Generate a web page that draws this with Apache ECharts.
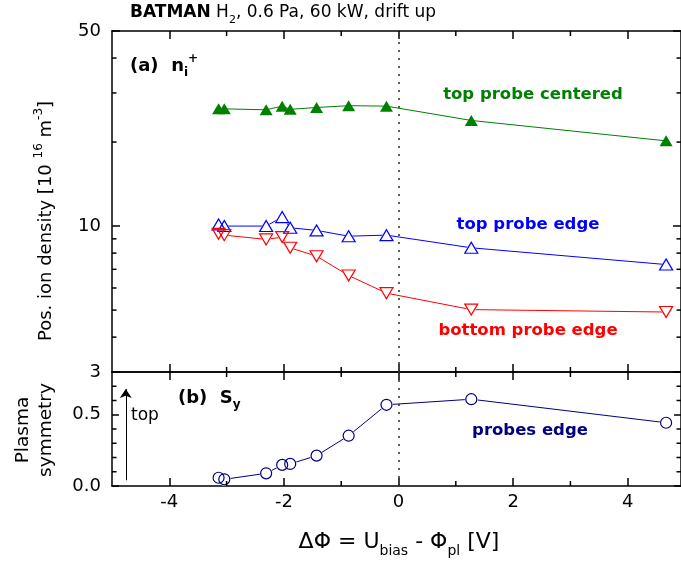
<!DOCTYPE html>
<html><head><meta charset="utf-8">
<script src="https://cdn.jsdelivr.net/npm/echarts@6/dist/echarts.min.js"></script>
<style>html,body{margin:0;padding:0;background:#fff}#c{width:681px;height:570px}</style>
</head><body><div id="c"></div>
<script>
// ---- data ----
const xBias = [-3.14, -3.04, -2.31, -2.03, -1.89, -1.43, -0.87, -0.21, 1.27, 4.67];
const topCentered = [26.3, 26.3, 26.1, 26.9, 26.2, 26.6, 27.0, 26.9, 23.9, 20.2];
const topEdge = [10.14, 10.0, 10.0, 10.77, 9.86, 9.65, 9.2, 9.28, 8.36, 7.28];
const bottomEdge = [9.38, 9.28, 8.96, 9.13, 8.36, 7.80, 6.65, 5.75, 5.02, 4.92];
const symmetry = [0.058, 0.047, 0.089, 0.148, 0.155, 0.213, 0.353, 0.570, 0.609, 0.444];
const xMajorTicks = [-4, -2, 0, 2, 4];
const xMinorTicks = [-3, -1, 1, 3];
const densityMinorTicks = [4, 5, 6, 7, 8, 9, 20, 30, 40];
const symMajorTicks = [0, 0.5];
const symMinorTicks = [0.1, 0.2, 0.3, 0.4, 0.6, 0.7];

const FONT = '"DejaVu Sans", "Liberation Sans", sans-serif';
const X_MIN = -5, X_MAX = 4.93;
const YA = [3, 50], YB = [0, 0.8];
const GREEN = '#008000', BLUE = '#0000ff', RED = '#ff0000', NAVY = '#000080';
const AX = {color: '#000', width: 1.5};
const pts = ys => xBias.map((x, i) => [x, ys[i]]);

function xAx(gridIndex, position, showLabel) {
  return {
    type: 'value', gridIndex, position, min: X_MIN, max: X_MAX,
    axisLine: {show: true, onZero: false, lineStyle: AX},
    axisTick: {show: true, inside: true, length: 8, customValues: xMajorTicks, lineStyle: AX},
    axisLabel: {show: showLabel, customValues: xMajorTicks, margin: 7, color: '#000', fontFamily: FONT, fontSize: 18},
    splitLine: {show: false}
  };
}
function yLog(position, showLabel) {
  return {
    type: 'log', logBase: 10, gridIndex: 0, position, min: YA[0], max: YA[1],
    axisLine: {show: true, onZero: false, lineStyle: AX},
    axisTick: {show: true, inside: true, length: 8, lineStyle: AX},
    axisLabel: {show: showLabel, showMinLabel: true, showMaxLabel: true, margin: 11, color: '#000',
      fontFamily: FONT, fontSize: 18, formatter: v => String(Math.round(v))},
    splitLine: {show: false}, minorTick: {show: false}
  };
}
function yLin(position, showLabel) {
  return {
    type: 'value', gridIndex: 1, position, min: YB[0], max: YB[1],
    axisLine: {show: true, onZero: false, lineStyle: AX},
    axisTick: {show: true, inside: true, length: 7, customValues: symMajorTicks, lineStyle: AX},
    axisLabel: {show: showLabel, customValues: symMajorTicks, margin: 11, color: '#000',
      fontFamily: FONT, fontSize: 18, formatter: v => v.toFixed(1)},
    splitLine: {show: false}
  };
}
function minorTicks(xi, yi, kind, values, len, yExt) {
  return {
    type: 'custom', xAxisIndex: xi, yAxisIndex: yi, silent: true, clip: false, z: 5,
    data: kind === 'y' ? values.map(v => [X_MIN, v]) : values.map(v => [v, yExt[0]]),
    renderItem: (params, api) => {
      const st = {stroke: '#000', lineWidth: 1.5};
      const ch = [];
      if (kind === 'y') {
        const v = api.value(1);
        const a = api.coord([X_MIN, v]), b = api.coord([X_MAX, v]);
        ch.push({type: 'line', shape: {x1: a[0], y1: a[1], x2: a[0] + len, y2: a[1]}, style: st});
        ch.push({type: 'line', shape: {x1: b[0], y1: b[1], x2: b[0] - len, y2: b[1]}, style: st});
      } else {
        const v = api.value(0);
        const a = api.coord([v, yExt[1]]), b = api.coord([v, yExt[0]]);
        ch.push({type: 'line', shape: {x1: a[0], y1: a[1], x2: a[0], y2: a[1] + len}, style: st});
        ch.push({type: 'line', shape: {x1: b[0], y1: b[1], x2: b[0], y2: b[1] - len}, style: st});
      }
      return {type: 'group', children: ch};
    }
  };
}
const dotted = {
  silent: true, symbol: ['none', 'none'], label: {show: false},
  lineStyle: {type: [2, 6], color: '#333', width: 1.6}, data: [{xAxis: 0}]
};
function maskLine(xi, yi, data, color, rot) {
  return {
    type: 'line', xAxisIndex: xi, yAxisIndex: yi, data, symbol: rot === 'circle' ? 'circle' : 'triangle',
    symbolRotate: rot === 180 ? 180 : 0, symbolSize: rot === 'circle' ? 12 : [14, 12],
    itemStyle: {color: '#fff', borderColor: '#fff', borderWidth: 1},
    lineStyle: {color, width: 1}, silent: true, z: 2
  };
}
function outline(xi, yi, data, color, rot) {
  return {
    type: 'scatter', xAxisIndex: xi, yAxisIndex: yi, data, symbol: rot === 'circle' ? 'circle' : 'triangle',
    symbolRotate: rot === 180 ? 180 : 0, symbolSize: rot === 'circle' ? 11 : [13, 11],
    itemStyle: {color: 'rgba(255,255,255,0)', borderColor: color, borderWidth: 1.2, opacity: 1},
    silent: true, z: 4
  };
}
function label(x, y, text, rich, opts) {
  return Object.assign({type: 'text', x, y, silent: true, style: Object.assign({
    text, rich, fontFamily: FONT, align: 'left', verticalAlign: 'middle', textAlign: 'left', textVerticalAlign: 'middle'
  }, (opts && opts.style) || {})}, (opts && opts.el) || {});
}
const R = (size, extra) => Object.assign({fontFamily: FONT, fontSize: size, lineHeight: Math.round(size * 1.45), verticalAlign: 'middle'}, extra || {});
const SUB = (size, extra) => Object.assign({fontFamily: FONT, fontSize: size, lineHeight: size, verticalAlign: 'bottom'}, extra || {});
const SUP = (size, extra) => Object.assign({fontFamily: FONT, fontSize: size, lineHeight: size, verticalAlign: 'top'}, extra || {});

const option = {
  animation: false,
  backgroundColor: '#fff',
  grid: [
    {left: 112, width: 570, top: 31, height: 341},
    {left: 112, width: 570, top: 372, height: 114}
  ],
  xAxis: [xAx(0, 'bottom', false), xAx(0, 'top', false), xAx(1, 'top', false), xAx(1, 'bottom', true)],
  yAxis: [yLog('left', true), yLog('right', false), yLin('left', true), yLin('right', false)],
  series: [
    {type: 'line', xAxisIndex: 0, yAxisIndex: 0, data: pts(topCentered), symbol: 'triangle', symbolSize: [13, 11],
     itemStyle: {color: GREEN}, lineStyle: {color: GREEN, width: 1}, silent: true, markLine: dotted},
    maskLine(0, 0, pts(topEdge), BLUE, 0),
    maskLine(0, 0, pts(bottomEdge), RED, 180),
    outline(0, 0, pts(topEdge), BLUE, 0),
    outline(0, 0, pts(bottomEdge), RED, 180),
    Object.assign(maskLine(3, 2, pts(symmetry), NAVY, 'circle'), {markLine: dotted}),
    Object.assign(outline(3, 2, pts(symmetry), NAVY, 'circle'), {
      markLine: {silent: true, symbol: ['none', 'arrow'], symbolSize: 9, label: {show: false},
        lineStyle: {type: 'solid', color: '#000', width: 1},
        data: [[{coord: [-4.76, 0.04]}, {coord: [-4.76, 0.68]}]]}
    }),
    minorTicks(0, 0, 'y', densityMinorTicks, 4.5),
    minorTicks(0, 0, 'x', xMinorTicks, 5, YA),
    minorTicks(3, 2, 'y', symMinorTicks, 4.5),
    minorTicks(3, 2, 'x', xMinorTicks, 5, YB)
  ],
  graphic: [
    label(130, 13, '{b|BATMAN}{n| H}{s|2}{n|, 0.6 Pa, 60 kW, drift up}',
      {b: R(17, {fontWeight: 'bold'}), n: R(17), s: SUB(11)}),
    label(130, 66, '{b|(a)  n}{s|i}{p|+}',
      {b: R(18, {fontWeight: 'bold'}), s: SUB(12, {fontWeight: 'bold'}), p: SUP(12, {fontWeight: 'bold'})}),
    label(178, 398, '{b|(b)  S}{s|y}',
      {b: R(18, {fontWeight: 'bold'}), s: SUB(12, {fontWeight: 'bold'})}),
    label(533, 95, 'top probe centered', null, {style: {fontSize: 16.5, fontWeight: 'bold', fill: GREEN, align: 'center', textAlign: 'center'}}),
    label(528, 225, 'top probe edge', null, {style: {fontSize: 16.5, fontWeight: 'bold', fill: BLUE, align: 'center', textAlign: 'center'}}),
    label(528, 331, 'bottom probe edge', null, {style: {fontSize: 16.5, fontWeight: 'bold', fill: RED, align: 'center', textAlign: 'center'}}),
    label(530, 431, 'probes edge', null, {style: {fontSize: 16.5, fontWeight: 'bold', fill: NAVY, align: 'center', textAlign: 'center'}}),
    label(131, 416, 'top', null, {style: {fontSize: 17, fill: '#000'}}),
    label(46, 221, '{n|Pos. ion density [10 }{p|16}{n| m}{p|-3}{n|]}',
      {n: R(18), p: SUP(12)}, {style: {align: 'center', textAlign: 'center'}, el: {rotation: Math.PI / 2}}),
    label(35, 430, 'Plasma\nsymmetry', null,
      {style: {fontSize: 18.5, lineHeight: 23, align: 'center', textAlign: 'center', fill: '#000'}, el: {rotation: Math.PI / 2}}),
    label(399, 542, '{n|ΔΦ = U}{s|bias}{n| - Φ}{s|pl}{n| [V]}',
      {n: R(22), s: SUB(14)}, {style: {align: 'center', textAlign: 'center'}})
  ]
};
const chart = echarts.init(document.getElementById('c'), null, {renderer: 'canvas'});
chart.setOption(option);
</script></body></html>
